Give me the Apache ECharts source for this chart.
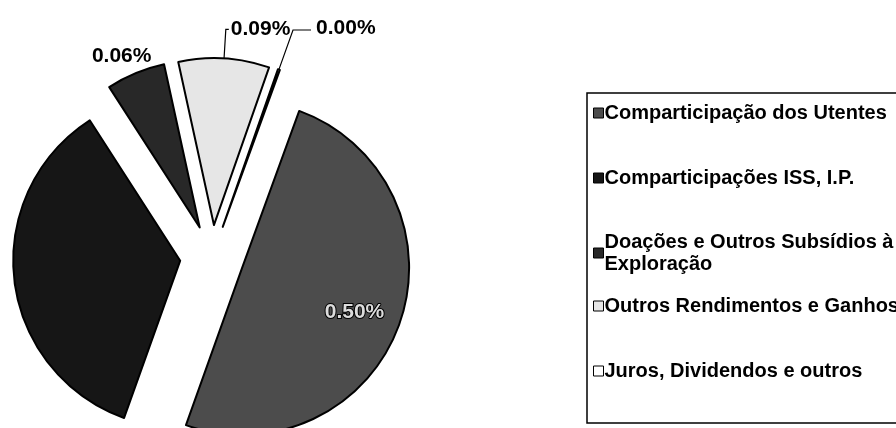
<!DOCTYPE html>
<html>
<head>
<meta charset="utf-8">
<script src="https://cdn.jsdelivr.net/npm/echarts@6/dist/echarts.min.js"></script>
<style>
html,body{margin:0;padding:0;background:#fff;}
#c{width:896px;height:428px;}
</style>
</head>
<body>
<div id="c"></div>
<script>
const categories = [
  'Comparticipação dos Utentes',
  'Comparticipações ISS, I.P.',
  'Doações e Outros Subsídios à Exploração',
  'Outros Rendimentos e Ganhos',
  'Juros, Dividendos e outros'
];
const values = [0.50, 0.355, 0.057, 0.088, 0.002];
const colors = ['#4c4c4c', '#161616', '#282828', '#e6e6e6', '#ffffff'];
const legendLabels = [
  'Comparticipação dos Utentes',
  'Comparticipações ISS, I.P.',
  'Doações e Outros Subsídios à\nExploração',
  'Outros Rendimentos e Ganhos',
  'Juros, Dividendos e outros'
];
const legendTops = [102, 167, 231, 295, 360];

const FONT = '"Liberation Sans", Arial, sans-serif';

const labelCfg = [
  {show: true, position: 'inside', color: '#dcdcdc', textBorderColor: '#000', textBorderWidth: 2},
  {show: false},
  {show: true, position: 'outside', color: '#000'},
  {show: true, position: 'outside', color: '#000', distanceToLabelLine: 2},
  {show: true, position: 'outside', color: '#000', distanceToLabelLine: 5}
];
const lineCfg = [
  {show: false},
  {show: false},
  {show: false, length: 3, length2: 0},
  {show: true, length: 29, length2: 3},
  {show: true, length: 42, length2: 18}
];
const labelShift = [[31, 15], [0, 0], [22, -14], [0, 0], [0, -2]];

const data = categories.map((n, i) => ({
  name: n,
  value: values[i],
  selected: true,
  itemStyle: {color: colors[i]},
  label: labelCfg[i],
  labelLine: lineCfg[i]
}));

const legends = categories.map((n, i) => ({
  data: [n],
  orient: 'vertical',
  left: 593,
  top: legendTops[i],
  padding: 0,
  itemWidth: 10,
  itemHeight: 10,
  itemGap: 0,
  icon: 'rect',
  selectedMode: false,
  itemStyle: {borderColor: '#000', borderWidth: 1},
  formatter: () => legendLabels[i],
  textStyle: {fontFamily: FONT, fontWeight: 'bold', fontSize: 20, color: '#000', lineHeight: 22, padding: [0, 0, 0, -4]}
}));

const chart = echarts.init(document.getElementById('c'), null, {renderer: 'canvas'});
chart.setOption({
  animation: false,
  backgroundColor: '#fff',
  legend: legends,
  graphic: [{
    type: 'rect',
    shape: {x: 587, y: 93, width: 330, height: 330},
    style: {fill: 'none', stroke: '#000', lineWidth: 1.5},
    silent: true
  }],
  series: [{
    type: 'pie',
    center: [212, 257],
    radius: 167,
    startAngle: 70,
    clockwise: true,
    selectedMode: 'multiple',
    selectedOffset: 32,
    avoidLabelOverlap: false,
    emphasis: {disabled: true},
    itemStyle: {borderColor: '#000', borderWidth: 2},
    label: {
      fontFamily: FONT,
      fontWeight: 'bold',
      fontSize: 21,
      formatter: p => p.value.toFixed(2) + '%'
    },
    labelLine: {lineStyle: {color: '#000', width: 1.2}},
    labelLayout: p => ({dx: labelShift[p.dataIndex][0], dy: labelShift[p.dataIndex][1]}),
    data: data
  }]
});
</script>
</body>
</html>
